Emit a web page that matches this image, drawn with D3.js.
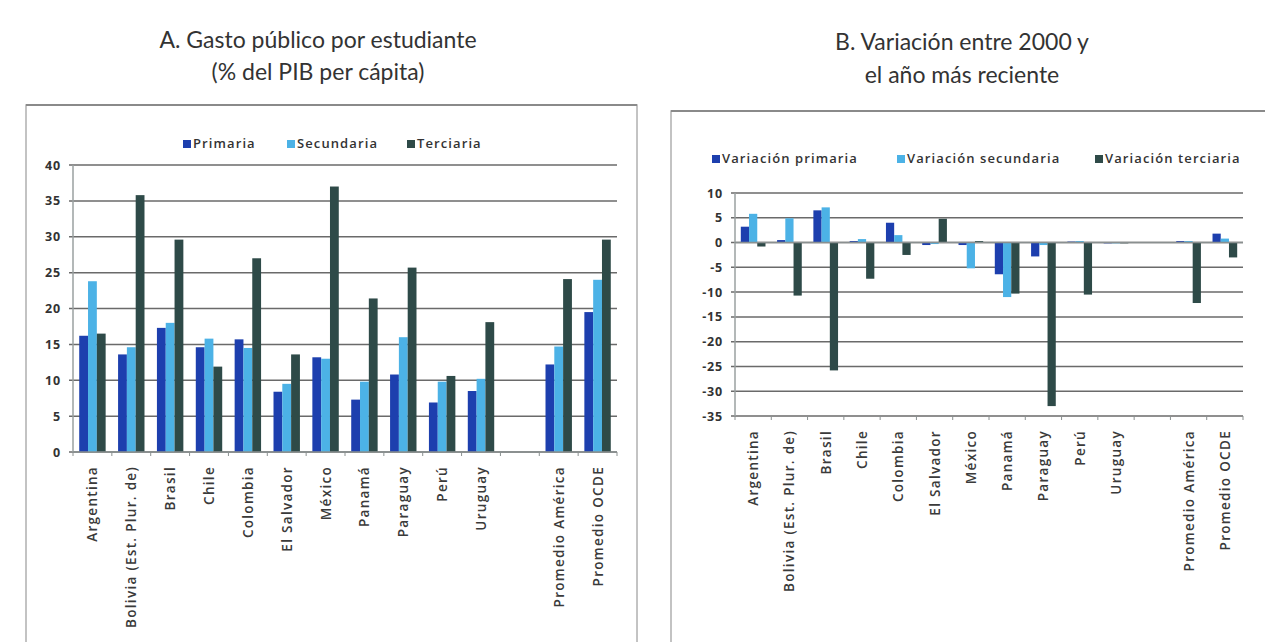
<!DOCTYPE html>
<html><head><meta charset="utf-8">
<script src="https://cdn.jsdelivr.net/npm/d3@7"></script>
<style>body{margin:0;background:#fff}svg{display:block}</style>
</head><body>
<svg id="c" width="1265" height="642"></svg>
<script>
const categories = ["Argentina","Bolivia (Est. Plur. de)","Brasil","Chile","Colombia","El Salvador","México","Panamá","Paraguay","Perú","Uruguay","","Promedio América","Promedio OCDE"];
// Panel A: gasto público por estudiante (% del PIB per cápita)
const primaria   = [16.2, 13.6, 17.3, 14.6, 15.7, 8.4, 13.2, 7.3, 10.8, 6.9, 8.5, null, 12.2, 19.5];
const secundaria = [23.8, 14.6, 18.0, 15.8, 14.5, 9.5, 13.0, 9.8, 16.0, 9.8, 10.2, null, 14.7, 24.0];
const terciaria  = [16.5, 35.8, 29.6, 11.9, 27.0, 13.6, 37.0, 21.4, 25.7, 10.6, 18.1, null, 24.1, 29.6];
const ticksA = [0,5,10,15,20,25,30,35,40];
// Panel B: variación entre 2000 y el año más reciente
const varPrimaria   = [3.2, 0.5, 6.5, 0.3, 4.0, -0.5, -0.5, -6.4, -2.8, 0.2, 0, null, 0.3, 1.8];
const varSecundaria = [5.8, 4.9, 7.1, 0.7, 1.5, -0.3, -5.2, -11.0, -0.5, 0.3, 0, null, 0.3, 0.8];
const varTerciaria  = [-0.8, -10.7, -25.8, -7.3, -2.5, 4.8, 0.3, -10.3, -33.0, -10.5, 0, null, -12.2, -3.0];
const ticksB = [10,5,0,-5,-10,-15,-20,-25,-30,-35];
const seriesNamesA = ["Primaria","Secundaria","Terciaria"];
const seriesNamesB = ["Variación primaria","Variación secundaria","Variación terciaria"];
const colors = ["#1d3fae","#4cb2e6","#2e4a48"];

const svg = d3.select("#c");
const keys = categories.map((c,i)=> c===""? "gap"+i : c);
const FONT = "'Open Sans', sans-serif";

function panel(cfg){
  const g = svg.append("g");
  g.append("rect").attr("x",cfg.box[0]).attr("y",cfg.box[1]).attr("width",cfg.box[2]).attr("height",cfg.box[3])
    .attr("fill","#fff").attr("stroke","#b0b0b0").attr("stroke-width",1.5);
  g.append("line").attr("x1",cfg.box[0]).attr("x2",cfg.box[0]+cfg.box[2]).attr("y1",cfg.box[1]).attr("y2",cfg.box[1])
    .attr("stroke","#8a8a8a").attr("stroke-width",2);
  cfg.title.forEach((t,i)=>{
    g.append("text").attr("x",cfg.titleX).attr("y",cfg.titleY[i]).attr("text-anchor","middle")
      .attr("font-family","Lato, 'Open Sans', sans-serif").attr("font-size",23).attr("fill","#333").text(t);
  });
  const x = d3.scaleBand().domain(keys).range(cfg.xr).paddingInner(0).paddingOuter(0);
  const y = d3.scaleLinear().domain(cfg.yd).range(cfg.yr);
  g.append("g").selectAll("line").data(cfg.ticks).join("line")
    .attr("x1",cfg.xr[0]-4).attr("x2",cfg.xr[1]).attr("y1",d=>y(d)).attr("y2",d=>y(d))
    .attr("stroke","#6a6a6a").attr("stroke-width",1.5);
  g.append("g").selectAll("text").data(cfg.ticks).join("text")
    .attr("x",cfg.xr[0]-12).attr("y",d=>y(d)+4.5).attr("text-anchor","end")
    .attr("font-family",FONT).attr("font-weight",700).attr("font-size",12.5).attr("letter-spacing",0.8).attr("fill","#333")
    .text(d=>d);
  g.append("line").attr("x1",cfg.xr[0]).attr("x2",cfg.xr[0]).attr("y1",y(cfg.yd[1])).attr("y2",y(cfg.yd[0]))
    .attr("stroke","#9aa0a0").attr("stroke-width",1.5);
  const inner = d3.scaleBand().domain([0,1,2]).range([0,x.bandwidth()*0.68]).padding(0);
  const off = x.bandwidth()*0.16;
  cfg.series.forEach((vals,si)=>{
    g.append("g").selectAll("rect").data(vals.map((v,i)=>({k:keys[i],v}))).join("rect")
      .filter(d=>d.v!==null)
      .attr("x",d=>x(d.k)+off+inner(si)).attr("width",inner.bandwidth())
      .attr("y",d=>y(Math.max(0,d.v))).attr("height",d=>Math.max(Math.abs(y(d.v)-y(0)),0.8))
      .attr("fill",colors[si]);
  });
  g.append("line").attr("x1",cfg.xr[0]).attr("x2",cfg.xr[1]).attr("y1",y(0)).attr("y2",y(0))
    .attr("stroke","#8a9090").attr("stroke-width",1.5);
  g.append("g").selectAll("line").data(keys.concat(["end"])).join("line")
    .attr("x1",(d,i)=> cfg.xr[0]+i*x.step()).attr("x2",(d,i)=> cfg.xr[0]+i*x.step())
    .attr("y1",cfg.tickY).attr("y2",cfg.tickY+4).attr("stroke","#8a9090");
  g.append("g").selectAll("text").data(categories.map((c,i)=>({c,k:keys[i]}))).join("text")
    .attr("transform",d=>`translate(${x(d.k)+x.bandwidth()/2+5},${cfg.labelY}) rotate(-90)`)
    .attr("text-anchor","end")
    .attr("font-family",FONT).attr("font-weight",600).attr("font-size",13.5).attr("letter-spacing",1.3).attr("fill","#3a3a3a")
    .text(d=>d.c);
  cfg.names.forEach((n,i)=>{
    const lx = cfg.legX[i];
    g.append("rect").attr("x",lx).attr("y",cfg.legY-5).attr("width",8).attr("height",8).attr("fill",colors[i]);
    g.append("text").attr("x",lx+10).attr("y",cfg.legY+3)
      .attr("font-family",FONT).attr("font-weight",600).attr("font-size",13).attr("letter-spacing",1.1).attr("fill","#333").text(n);
  });
}

panel({
  box:[26,105,611,560], title:["A. Gasto público por estudiante","(% del PIB per cápita)"], titleX:318, titleY:[48,80],
  xr:[73,617], yd:[0,40], yr:[452,165], ticks:ticksA, tickY:452, labelY:466,
  series:[primaria,secundaria,terciaria], names:seriesNamesA, legX:[183,287,407], legY:145
});
panel({
  box:[671,111,620,560], title:["B. Variación entre 2000 y","el año más reciente"], titleX:962, titleY:[50,83],
  xr:[735,1243], yd:[-35,10], yr:[416,193], ticks:ticksB, tickY:416, labelY:430,
  series:[varPrimaria,varSecundaria,varTerciaria], names:seriesNamesB, legX:[712,897,1095], legY:160
});
</script>
</body></html>
